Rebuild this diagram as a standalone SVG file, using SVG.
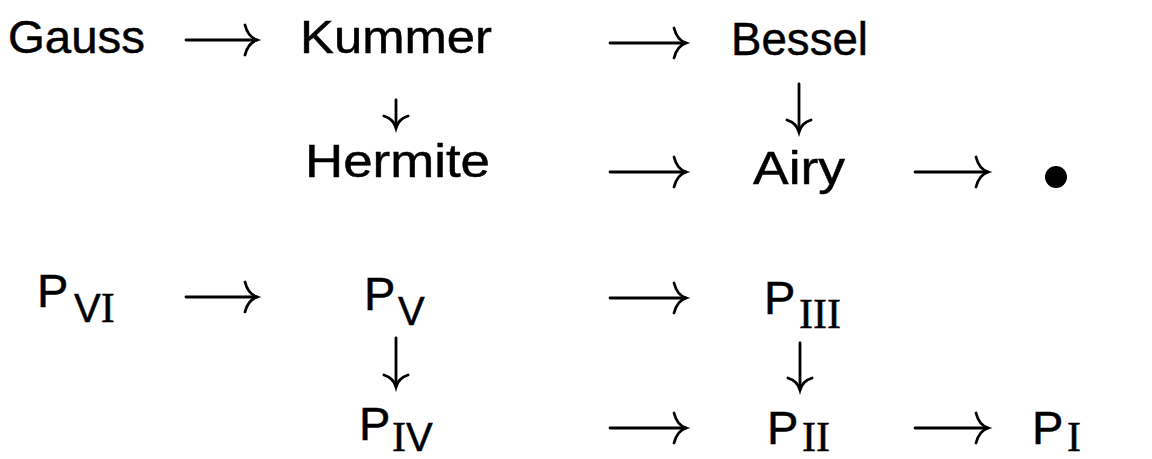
<svg xmlns="http://www.w3.org/2000/svg" width="1152" height="459" viewBox="0 0 1152 459">
<style>
.t{font-family:"Liberation Sans",Arial,sans-serif;font-size:47px;fill:#000;stroke:#000;stroke-width:0.5}
.s{font-family:"Liberation Sans",Arial,sans-serif;font-size:40px}
.r{font-family:"Liberation Serif","Times New Roman",serif;font-size:42px}
.c{stroke:#000;stroke-width:2.8;fill:none;stroke-linecap:round}
</style>
<defs>
<marker id="ah" markerUnits="userSpaceOnUse" markerWidth="20" markerHeight="34" refX="15" refY="17" orient="auto" viewBox="0 0 20 34">
<path d="M3,2 Q6,14 15,17 Q6,20 3,32" stroke="#000" stroke-width="2.8" fill="none" stroke-linecap="round"/>
</marker>
<marker id="ahs" markerUnits="userSpaceOnUse" markerWidth="20" markerHeight="28" refX="15" refY="14" orient="auto" viewBox="0 0 20 28">
<path d="M3,2 Q6,11.5 15,14 Q6,16.5 3,26" stroke="#000" stroke-width="2.8" fill="none" stroke-linecap="round"/>
</marker>
</defs>
<g id="gauss"><text class="t" x="8" y="53" textLength="137" lengthAdjust="spacingAndGlyphs">Gauss</text></g>
<g id="kummer"><text class="t" x="300" y="53" textLength="192" lengthAdjust="spacingAndGlyphs">Kummer</text></g>
<g id="bessel"><text class="t" x="731" y="55" textLength="137" lengthAdjust="spacingAndGlyphs">Bessel</text></g>
<g id="hermite"><text class="t" x="305" y="177" textLength="185" lengthAdjust="spacingAndGlyphs">Hermite</text></g>
<g id="airy"><text class="t" x="753" y="184" textLength="92" lengthAdjust="spacingAndGlyphs">Airy</text></g>
<g id="point"><circle cx="1056" cy="177" r="11" fill="#000"/></g>
<g id="p6"><text class="t" x="37" y="307">P<tspan class="s" x="74" y="322">V</tspan><tspan class="r" y="322">I</tspan></text></g>
<g id="p5"><text class="t" x="364" y="310">P<tspan class="s" x="398" y="325">V</tspan></text></g>
<g id="p3"><text class="t" x="764" y="314">P<tspan class="r" x="799" y="328">III</tspan></text></g>
<g id="p4"><text class="t" x="359" y="440">P<tspan class="r" x="392" y="451">I</tspan><tspan class="s" y="451">V</tspan></text></g>
<g id="p2"><text class="t" x="767" y="444">P<tspan class="r" x="802" y="451">II</tspan></text></g>
<g id="p1"><text class="t" x="1032" y="444">P<tspan class="r" x="1067" y="451">I</tspan></text></g>
<g id="connectors">
<path class="c" d="M186,40 H257" marker-end="url(#ah)"/>
<path class="c" d="M610,43 H686" marker-end="url(#ah)"/>
<path class="c" d="M396,100 V128" marker-end="url(#ahs)"/>
<path class="c" d="M799,84 V132" marker-end="url(#ahs)"/>
<path class="c" d="M610,172 H686" marker-end="url(#ah)"/>
<path class="c" d="M915,172 H988" marker-end="url(#ah)"/>
<path class="c" d="M186,297 H257" marker-end="url(#ah)"/>
<path class="c" d="M610,298 H686" marker-end="url(#ah)"/>
<path class="c" d="M396,338 V387" marker-end="url(#ahs)"/>
<path class="c" d="M800,343 V390" marker-end="url(#ahs)"/>
<path class="c" d="M610,428 H686" marker-end="url(#ah)"/>
<path class="c" d="M915,428 H988" marker-end="url(#ah)"/>
</g>
</svg>
